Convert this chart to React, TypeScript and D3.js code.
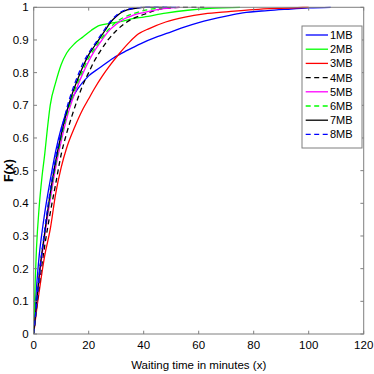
import React from "react";
import * as d3 from "d3";

const xTicks = [0, 20, 40, 60, 80, 100, 120];
const yTicks = [0, 0.1, 0.2, 0.3, 0.4, 0.5, 0.6, 0.7, 0.8, 0.9, 1];

const x1MB = [0, 0.5, 1, 2, 3, 4, 6, 8, 10, 13, 16, 20, 24, 29, 34, 39, 45, 50, 55, 60, 70, 76, 85, 92, 100, 108];
const y1MB = [0, 0.08, 0.14, 0.24, 0.31, 0.37, 0.47, 0.56, 0.63, 0.705, 0.75, 0.79, 0.815, 0.845, 0.868, 0.889, 0.91, 0.925, 0.94, 0.953, 0.973, 0.983, 0.99, 0.994, 0.998, 1];

const x2MB = [0, 0.5, 1, 2, 3, 4, 5, 6, 8, 10, 12, 15, 18, 21, 24, 28, 32, 36, 40, 48, 56, 64, 72, 75];
const y2MB = [0, 0.15, 0.26, 0.39, 0.48, 0.55, 0.63, 0.7, 0.77, 0.825, 0.86, 0.89, 0.91, 0.93, 0.945, 0.951, 0.957, 0.965, 0.97, 0.982, 0.991, 0.997, 0.999, 1];

const x3MB = [0, 1, 2, 4, 6, 8, 10, 12, 15, 18, 20, 22, 25, 28, 31, 35, 38, 42, 48, 55, 62, 71, 80, 90, 100];
const y3MB = [0, 0.07, 0.13, 0.24, 0.32, 0.43, 0.51, 0.57, 0.635, 0.69, 0.72, 0.75, 0.79, 0.825, 0.857, 0.895, 0.918, 0.935, 0.955, 0.97, 0.98, 0.987, 0.993, 0.997, 1];

const x4MB = [0, 1, 2, 4, 6, 8, 10, 12, 14, 16, 18, 20, 22, 24, 27, 30, 33, 36, 40, 44, 48, 55, 62];
const y4MB = [0, 0.075, 0.15, 0.27, 0.37, 0.46, 0.55, 0.615, 0.67, 0.72, 0.765, 0.8, 0.835, 0.863, 0.9, 0.928, 0.95, 0.965, 0.978, 0.99, 0.997, 1, 1];

const x5MB = [0, 1, 2, 4, 6, 8, 10, 12, 14, 16, 18, 20, 22, 24, 27, 30, 33, 36, 40, 45, 50, 53];
const y5MB = [0, 0.085, 0.17, 0.3, 0.41, 0.51, 0.59, 0.66, 0.715, 0.76, 0.8, 0.835, 0.865, 0.89, 0.925, 0.948, 0.965, 0.975, 0.984, 0.993, 0.998, 1];

const x6MB = [0, 1, 2, 4, 6, 8, 10, 12, 14, 16, 18, 20, 22, 24, 27, 30, 33, 36, 40, 44, 48];
const y6MB = [0, 0.09, 0.18, 0.31, 0.42, 0.52, 0.6, 0.67, 0.725, 0.77, 0.81, 0.845, 0.872, 0.897, 0.93, 0.955, 0.97, 0.98, 0.99, 0.996, 1];

const x7MB = [0, 1, 2, 4, 6, 8, 10, 12, 14, 16, 18, 20, 22, 24, 26, 28, 30, 32, 34, 37, 40, 50];
const y7MB = [0, 0.09, 0.18, 0.31, 0.43, 0.53, 0.61, 0.68, 0.735, 0.78, 0.82, 0.855, 0.88, 0.905, 0.93, 0.955, 0.972, 0.985, 0.992, 0.997, 1, 1];

const x8MB = [0, 1, 2, 4, 6, 8, 10, 12, 14, 16, 18, 20, 22, 24, 26, 28, 30, 32, 34, 37, 40, 45, 53];
const y8MB = [0, 0.09, 0.18, 0.32, 0.44, 0.54, 0.62, 0.69, 0.745, 0.79, 0.83, 0.86, 0.885, 0.91, 0.935, 0.958, 0.975, 0.987, 0.993, 0.998, 1, 1, 1];

const seriesNames = ["1MB", "2MB", "3MB", "4MB", "5MB", "6MB", "7MB", "8MB"];
const seriesX = [x1MB, x2MB, x3MB, x4MB, x5MB, x6MB, x7MB, x8MB];
const seriesY = [y1MB, y2MB, y3MB, y4MB, y5MB, y6MB, y7MB, y8MB];
const seriesColors = ["#0000ff", "#00ff00", "#ff0000", "#000000", "#ff00ff", "#00ff00", "#000000", "#0000ff"];
const seriesDashed = [false, false, false, true, false, true, false, true];

const W = 374;
const H = 374;
const left = 33.7;
const right = 363.7;
const top = 7.3;
const bottom = 334;

export default function App() {
  const xs = d3.scaleLinear().domain([0, 120]).range([left, right]);
  const ys = d3.scaleLinear().domain([0, 1]).range([bottom, top]);
  const line = d3
    .line<[number, number]>()
    .x((d) => xs(d[0]))
    .y((d) => ys(d[1]))
    .curve(d3.curveMonotoneX);
  const axisColor = "#7f7f7f";
  const font = "'Liberation Sans', Arial, Helvetica, sans-serif";
  const drawOrder = [0, 1, 2, 3, 4, 5, 6, 7];
  const legX = 302;
  const legY = 26;
  const legW = 60;
  const legH = 122;
  const legRow = 14.2;

  return (
    <svg width={W} height={H} style={{ position: "absolute", left: 0, top: 0, background: "#fff" }} fontFamily={font}>
      <rect x={0} y={0} width={W} height={H} fill="#fff" />
      <clipPath id="plot">
        <rect x={left} y={top - 2} width={right - left} height={bottom - top + 2} />
      </clipPath>
      {drawOrder.map((i) => (
        <path
          key={seriesNames[i]}
          d={line(seriesX[i].map((v, j) => [v, seriesY[i][j]] as [number, number])) || ""}
          fill="none"
          stroke={seriesColors[i]}
          strokeWidth={1.3}
          strokeDasharray={seriesDashed[i] ? "5,3.5" : undefined}
          clipPath="url(#plot)"
        />
      ))}
      <rect x={left} y={top} width={right - left} height={bottom - top} fill="none" stroke={axisColor} strokeWidth={1} />
      {xTicks.map((t) => (
        <g key={"x" + t}>
          <line x1={xs(t)} x2={xs(t)} y1={bottom} y2={bottom - 3.3} stroke={axisColor} />
          <line x1={xs(t)} x2={xs(t)} y1={top} y2={top + 3.3} stroke={axisColor} />
          <text x={xs(t)} y={bottom + 15} fontSize={11.5} textAnchor="middle" fill="#000">
            {t}
          </text>
        </g>
      ))}
      {yTicks.map((t) => (
        <g key={"y" + t}>
          <line x1={left} x2={left + 3.3} y1={ys(t)} y2={ys(t)} stroke={axisColor} />
          <line x1={right} x2={right - 3.3} y1={ys(t)} y2={ys(t)} stroke={axisColor} />
          <text x={left - 5} y={ys(t) + 4} fontSize={11.5} textAnchor="end" fill="#000">
            {t === 0 || t === 1 ? String(t) : t.toFixed(1)}
          </text>
        </g>
      ))}
      <text x={(left + right) / 2} y={369} fontSize={11.5} textAnchor="middle" fill="#000">
        Waiting time in minutes (x)
      </text>
      <text
        transform={`translate(12.5, ${(top + bottom) / 2}) rotate(-90)`}
        fontSize={12.5}
        fontWeight="bold"
        textAnchor="middle"
        fill="#000"
      >
        F(x)
      </text>
      <rect x={legX} y={legY} width={legW} height={legH} fill="#fff" stroke={axisColor} strokeWidth={1} />
      {seriesNames.map((name, i) => {
        const cy = legY + 9 + i * legRow;
        return (
          <g key={"leg" + name}>
            <line
              x1={legX + 3.7}
              x2={legX + 26}
              y1={cy}
              y2={cy}
              stroke={seriesColors[i]}
              strokeWidth={1.3}
              strokeDasharray={seriesDashed[i] ? "5,3.5" : undefined}
            />
            <text x={legX + 28} y={cy + 4} fontSize={11} fill="#000">
              {name}
            </text>
          </g>
        );
      })}
    </svg>
  );
}
